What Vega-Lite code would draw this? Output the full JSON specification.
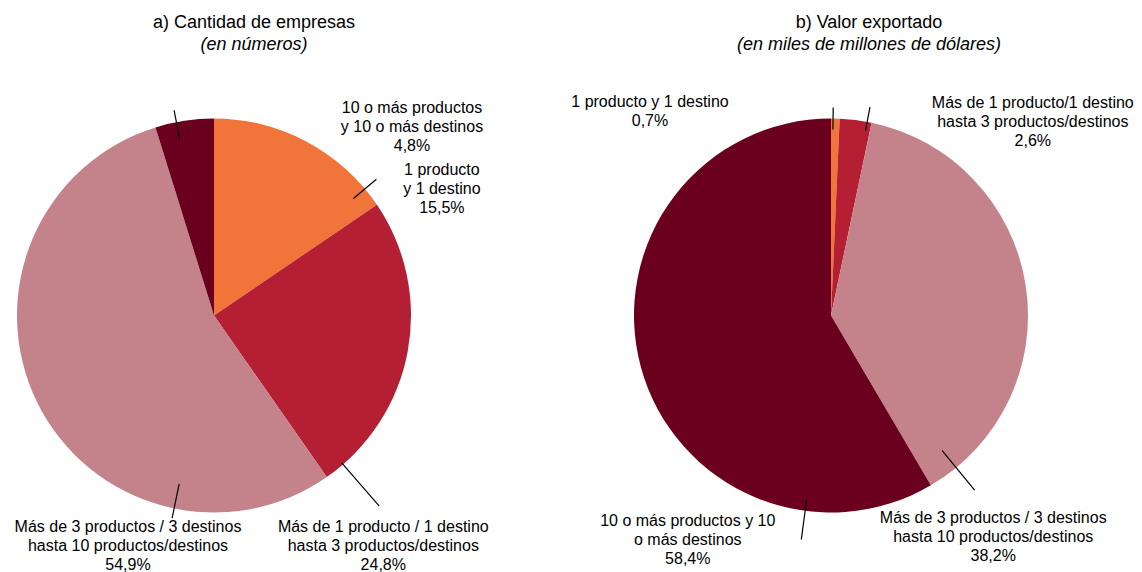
{
  "$schema": "https://vega.github.io/schema/vega-lite/v6.json",
  "padding": {"left": 0, "top": 14, "right": 0, "bottom": 0},
  "background": "white",
  "config": {
    "font": "Liberation Sans",
    "view": {"stroke": null},
    "text": {"font": "Liberation Sans", "fontSize": 16, "lineHeight": 19, "align": "center", "baseline": "middle", "lineBreak": "\n", "color": "black"}
  },
  "datasets": {
    "empresas": [
      {"cat": "1 producto y 1 destino", "orden": 1, "v": 15.5, "label": "1 producto\ny 1 destino\n15,5%"},
      {"cat": "Más de 1 hasta 3", "orden": 2, "v": 24.8, "label": "Más de 1 producto / 1 destino\nhasta 3 productos/destinos\n24,8%"},
      {"cat": "Más de 3 hasta 10", "orden": 3, "v": 54.9, "label": "Más de 3 productos / 3 destinos\nhasta 10 productos/destinos\n54,9%"},
      {"cat": "10 o más", "orden": 4, "v": 4.8, "label": "10 o más productos\ny 10 o más destinos\n4,8%"}
    ],
    "valor": [
      {"cat": "1 producto y 1 destino", "orden": 1, "v": 0.7, "label": "1 producto y 1 destino\n0,7%"},
      {"cat": "Más de 1 hasta 3", "orden": 2, "v": 2.6, "label": "Más de 1 producto/1 destino\nhasta 3 productos/destinos\n2,6%"},
      {"cat": "Más de 3 hasta 10", "orden": 3, "v": 38.2, "label": "Más de 3 productos / 3 destinos\nhasta 10 productos/destinos\n38,2%"},
      {"cat": "10 o más", "orden": 4, "v": 58.4, "label": "10 o más productos y 10\no más destinos\n58,4%"}
    ]
  },
  "hconcat": [
    {
      "width": 428,
      "height": 503,
      "data": {"name": "empresas"},
      "title": {"text": "a) Cantidad de empresas", "subtitle": "(en números)", "fontSize": 18, "fontWeight": "normal", "color": "black", "subtitleFontSize": 18, "subtitleFontStyle": "italic", "subtitleColor": "black", "subtitleFont": "Liberation Sans", "font": "Liberation Sans", "anchor": "middle", "dx": 40, "offset": 10, "subtitlePadding": 4},
      "transform": [{"stack": "v", "groupby": [], "sort": [{"field": "orden", "order": "ascending"}], "offset": "normalize", "as": ["s0", "s1"]}],
      "layer": [
        {
          "mark": {"type": "arc", "radius": 197},
          "encoding": {
            "theta": {"field": "s0", "type": "quantitative", "scale": {"domain": [0, 1]}},
            "theta2": {"field": "s1"},
            "color": {"field": "cat", "type": "nominal", "legend": null, "scale": {"domain": ["1 producto y 1 destino", "Más de 1 hasta 3", "Más de 3 hasta 10", "10 o más"], "range": ["#F1743A", "#B51F33", "#C4838B", "#6A001E"]}}
          }
        },
        {
          "transform": [{"filter": {"field": "orden", "equal": 1}}],
          "mark": {"type": "arc", "radius": 212, "radius2": 182, "thetaOffset": 0.8727, "theta2Offset": 0.8727, "filled": false, "stroke": "black", "strokeWidth": 1.2},
          "encoding": {"theta": {"field": "s0", "type": "quantitative"}, "theta2": {"field": "s0"}}
        },
        {
          "transform": [{"filter": {"field": "orden", "equal": 2}}],
          "mark": {"type": "arc", "radius": 252, "radius2": 195, "thetaOffset": -0.1047, "theta2Offset": -0.1047, "filled": false, "stroke": "black", "strokeWidth": 1.2},
          "encoding": {"theta": {"field": "s1", "type": "quantitative"}, "theta2": {"field": "s1"}}
        },
        {
          "transform": [{"filter": {"field": "orden", "equal": 3}}],
          "mark": {"type": "arc", "radius": 207, "radius2": 172, "thetaOffset": 0.8133, "theta2Offset": 0.8133, "filled": false, "stroke": "black", "strokeWidth": 1.2},
          "encoding": {"theta": {"field": "s0", "type": "quantitative"}, "theta2": {"field": "s0"}}
        },
        {
          "transform": [{"filter": {"field": "orden", "equal": 4}}],
          "mark": {"type": "arc", "radius": 209, "radius2": 180, "thetaOffset": -0.192, "theta2Offset": -0.192, "filled": false, "stroke": "black", "strokeWidth": 1.2},
          "encoding": {"theta": {"field": "s1", "type": "quantitative"}, "theta2": {"field": "s1"}}
        },
        {
          "transform": [{"filter": {"field": "orden", "equal": 1}}],
          "mark": {"type": "text", "radius": 261, "dx": 12, "dy": 1},
          "encoding": {"theta": {"field": "s1", "type": "quantitative", "stack": null}, "text": {"field": "label"}}
        },
        {
          "transform": [{"filter": {"field": "orden", "equal": 2}}],
          "mark": {"type": "text", "radius": 287, "dx": 5, "dy": -24},
          "encoding": {"theta": {"field": "s1", "type": "quantitative", "stack": null}, "text": {"field": "label"}}
        },
        {
          "transform": [{"filter": {"field": "orden", "equal": 3}}],
          "mark": {"type": "text", "radius": 283, "dx": -248, "dy": -21},
          "encoding": {"theta": {"field": "s0", "type": "quantitative", "stack": null}, "text": {"field": "label"}}
        },
        {
          "transform": [{"filter": {"field": "orden", "equal": 4}}],
          "mark": {"type": "text", "radius": 188.5, "dx": 198, "dy": -19},
          "encoding": {"theta": {"field": "s1", "type": "quantitative", "stack": null}, "text": {"field": "label"}}
        }
      ]
    },
    {
      "width": 400,
      "height": 503,
      "data": {"name": "valor"},
      "title": {"text": "b) Valor exportado", "subtitle": "(en miles de millones de dólares)", "fontSize": 18, "fontWeight": "normal", "color": "black", "subtitleFontSize": 18, "subtitleFontStyle": "italic", "subtitleColor": "black", "subtitleFont": "Liberation Sans", "font": "Liberation Sans", "anchor": "middle", "dx": 38, "offset": 10, "subtitlePadding": 4},
      "transform": [{"stack": "v", "groupby": [], "sort": [{"field": "orden", "order": "ascending"}], "offset": "normalize", "as": ["s0", "s1"]}],
      "layer": [
        {
          "mark": {"type": "arc", "radius": 197},
          "encoding": {
            "theta": {"field": "s0", "type": "quantitative", "scale": {"domain": [0, 1]}},
            "theta2": {"field": "s1"},
            "color": {"field": "cat", "type": "nominal", "legend": null, "scale": {"domain": ["1 producto y 1 destino", "Más de 1 hasta 3", "Más de 3 hasta 10", "10 o más"], "range": ["#F1743A", "#B51F33", "#C4838B", "#6A001E"]}}
          }
        },
        {
          "transform": [{"filter": {"field": "orden", "equal": 1}}],
          "mark": {"type": "arc", "radius": 208, "radius2": 186, "thetaOffset": 0.0105, "theta2Offset": 0.0105, "filled": false, "stroke": "black", "strokeWidth": 1.2},
          "encoding": {"theta": {"field": "s0", "type": "quantitative"}, "theta2": {"field": "s0"}}
        },
        {
          "transform": [{"filter": {"field": "orden", "equal": 2}}],
          "mark": {"type": "arc", "radius": 212, "radius2": 188, "thetaOffset": -0.0227, "theta2Offset": -0.0227, "filled": false, "stroke": "black", "strokeWidth": 1.2},
          "encoding": {"theta": {"field": "s1", "type": "quantitative"}, "theta2": {"field": "s1"}}
        },
        {
          "transform": [{"filter": {"field": "orden", "equal": 3}}],
          "mark": {"type": "arc", "radius": 226, "radius2": 175, "thetaOffset": -0.1571, "theta2Offset": -0.1571, "filled": false, "stroke": "black", "strokeWidth": 1.2},
          "encoding": {"theta": {"field": "s1", "type": "quantitative"}, "theta2": {"field": "s1"}}
        },
        {
          "transform": [{"filter": {"field": "orden", "equal": 4}}],
          "mark": {"type": "arc", "radius": 226, "radius2": 186, "thetaOffset": 0.6632, "theta2Offset": 0.6632, "filled": false, "stroke": "black", "strokeWidth": 1.2},
          "encoding": {"theta": {"field": "s0", "type": "quantitative"}, "theta2": {"field": "s0"}}
        },
        {
          "transform": [{"filter": {"field": "orden", "equal": 1}}],
          "mark": {"type": "text", "radius": 204, "dx": -181, "dy": -9.5},
          "encoding": {"theta": {"field": "s0", "type": "quantitative", "stack": null}, "text": {"field": "label"}}
        },
        {
          "transform": [{"filter": {"field": "orden", "equal": 2}}],
          "mark": {"type": "text", "radius": 198, "dx": 161, "dy": -19},
          "encoding": {"theta": {"field": "s1", "type": "quantitative", "stack": null}, "text": {"field": "label"}}
        },
        {
          "transform": [{"filter": {"field": "orden", "equal": 3}}],
          "mark": {"type": "text", "radius": 257, "dx": 32, "dy": -19},
          "encoding": {"theta": {"field": "s1", "type": "quantitative", "stack": null}, "text": {"field": "label"}}
        },
        {
          "transform": [{"filter": {"field": "orden", "equal": 4}}],
          "mark": {"type": "text", "radius": 260, "dx": -275, "dy": -19},
          "encoding": {"theta": {"field": "s0", "type": "quantitative", "stack": null}, "text": {"field": "label"}}
        }
      ]
    }
  ],
  "spacing": 203,
  "bounds": "flush"
}
